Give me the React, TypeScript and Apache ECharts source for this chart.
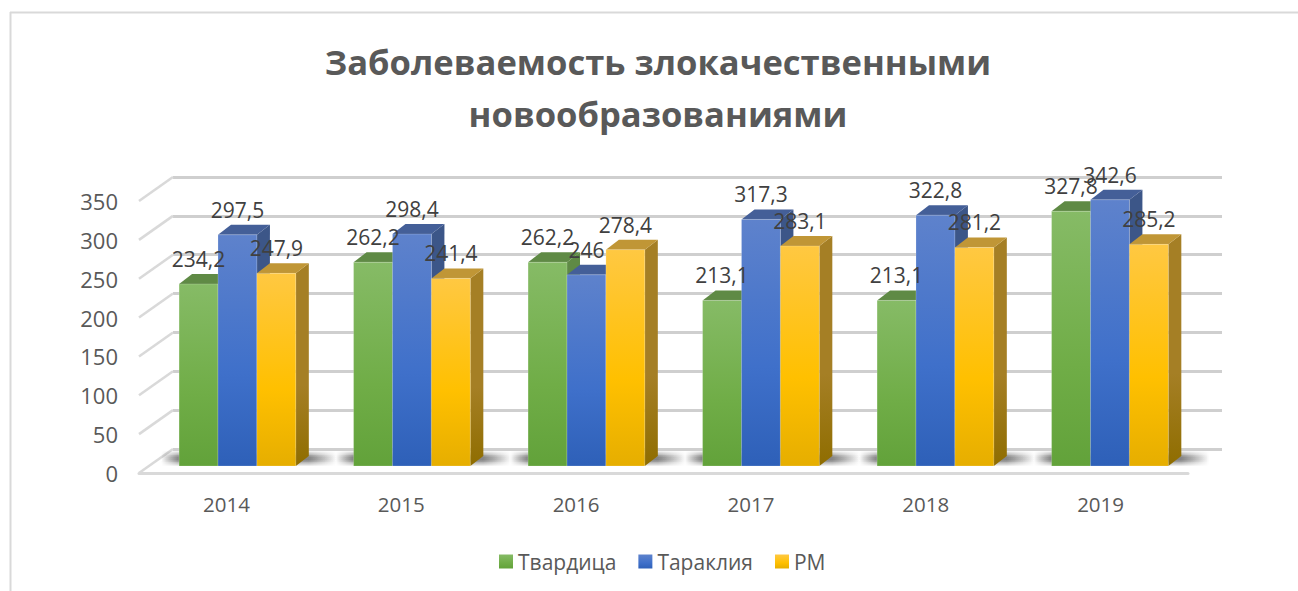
import React, { useEffect, useRef } from "react";
import * as echarts from "echarts";

const titleText = "Заболеваемость злокачественными\nновообразованиями";
const categories = ["2014", "2015", "2016", "2017", "2018", "2019"];
const tvardica = [234.2, 262.2, 262.2, 213.1, 213.1, 327.8];
const taraklia = [297.5, 298.4, 246, 317.3, 322.8, 342.6];
const rm = [247.9, 241.4, 278.4, 283.1, 281.2, 285.2];
const seriesNames = ["Твардица", "Тараклия", "РМ"];
const yTicks = [0, 50, 100, 150, 200, 250, 300, 350];

const grad = (a: string, b: string, c: string) =>
  new echarts.graphic.LinearGradient(0, 0, 0, 1, [
    { offset: 0, color: a },
    { offset: 0.6, color: b },
    { offset: 1, color: c },
  ]);

const looks = [
  { front: ["#86bb66", "#70ad47", "#62a23a"], top: "#5f8a45", side: ["#5f8a45", "#4f7a30"] },
  { front: ["#5e82cc", "#3f70ca", "#2e60b8"], top: "#445f98", side: ["#3c5688", "#2f4a80"] },
  { front: ["#ffc842", "#ffc000", "#e6ae00"], top: "#c09636", side: ["#a57f25", "#8f6d00"] },
];

const FONT = "'Open Sans', sans-serif";
const DX = 13;
const DY = 10;
const BAR_SHARE = 0.223;
const shadowLayers = [14, 10, 7, 4];

export default function App() {
  const ref = useRef<HTMLDivElement>(null);
  useEffect(() => {
    const chart = echarts.init(ref.current!, undefined, { renderer: "svg" });

    const barSeries = (name: string, values: number[], idx: number) => ({
      type: "custom",
      name,
      xAxisIndex: 1,
      yAxisIndex: 1,
      z: 5 + idx,
      clip: false,
      itemStyle: {
        color: grad(looks[idx].front[0], looks[idx].front[1], looks[idx].front[2]),
      },
      data: values.map((v, i) => [i, v]),
      renderItem: (_p: any, api: any) => {
        const w = api.size([1, 0])[0] * BAR_SHARE;
        const [cx, yTop] = api.coord([api.value(0), api.value(1)]);
        const [, yBase] = api.coord([api.value(0), 0]);
        const x0 = cx - 1.5 * w + idx * w;
        const x1 = x0 + w;
        const look = looks[idx];
        return {
          type: "group",
          children: [
            {
              type: "polygon",
              shape: { points: [[x1, yTop], [x1 + DX, yTop - DY], [x1 + DX, yBase - DY], [x1, yBase]] },
              style: { fill: grad(look.side[0], look.side[0], look.side[1]) },
            },
            {
              type: "polygon",
              shape: { points: [[x0, yTop], [x0 + DX, yTop - DY], [x1 + DX, yTop - DY], [x1, yTop]] },
              style: { fill: look.top },
            },
            {
              type: "rect",
              shape: { x: x0, y: yTop, width: w, height: yBase - yTop },
              style: {
                fill: grad(look.front[0], look.front[1], look.front[2]),
                stroke: "rgba(255,255,255,0.25)",
                lineWidth: 0.75,
              },
            },
          ],
        };
      },
    });

    const labelSeries = (values: number[], idx: number) => ({
      type: "custom",
      xAxisIndex: 1,
      yAxisIndex: 1,
      z: 20,
      clip: false,
      silent: true,
      data: values.map((v, i) => [i, v]),
      renderItem: (_p: any, api: any) => {
        const w = api.size([1, 0])[0] * BAR_SHARE;
        const [cx, yTop] = api.coord([api.value(0), api.value(1)]);
        return {
          type: "text",
          style: {
            x: cx - w + idx * w,
            y: yTop - 25,
            text: String(api.value(1)).replace(".", ","),
            align: "center",
            verticalAlign: "middle",
            font: `21px ${FONT}`,
            fill: "#404040",
          },
        };
      },
    });

    chart.setOption({
      animation: false,
      backgroundColor: "#ffffff",
      title: {
        text: titleText,
        left: 653,
        top: 30,
        textAlign: "center",
        textStyle: { fontFamily: FONT, fontWeight: "bold", fontSize: 34.6, lineHeight: 52, color: "#595959" },
      },
      legend: {
        left: 494,
        top: 546,
        itemWidth: 14,
        itemHeight: 14,
        itemGap: 22,
        icon: "rect",
        data: seriesNames,
        textStyle: { fontFamily: FONT, fontSize: 21, color: "#595959" },
      },
      graphic: [
        { type: "line", silent: true, shape: { x1: 10, y1: 12.5, x2: 1298, y2: 12.5 }, style: { stroke: "#d9d9d9", lineWidth: 2 } },
        { type: "line", silent: true, shape: { x1: 10.5, y1: 12, x2: 10.5, y2: 591 }, style: { stroke: "#d9d9d9", lineWidth: 2 } },
      ],
      grid: [
        { left: 139, top: 201, width: 1049, height: 272 },
        { left: 150.2, top: 194, width: 1047, height: 272 },
        { left: 173, top: 177, width: 1049, height: 272 },
      ],
      xAxis: [
        {
          gridIndex: 0,
          type: "category",
          data: categories,
          axisTick: { show: false },
          axisLine: { show: true, lineStyle: { color: "#d9d9d9", width: 3 } },
          axisLabel: { margin: 20, fontFamily: FONT, fontSize: 20.5, color: "#595959" },
        },
        { gridIndex: 1, type: "category", data: categories, show: false },
        { gridIndex: 2, type: "category", data: categories, show: false },
      ],
      yAxis: [
        {
          gridIndex: 0,
          type: "value",
          min: 0,
          max: 350,
          interval: 50,
          axisLine: { show: false },
          axisTick: { show: false },
          splitLine: { show: false },
          axisLabel: { margin: 21, fontFamily: FONT, fontSize: 22, color: "#595959" },
        },
        { gridIndex: 1, type: "value", min: 0, max: 350, interval: 50, show: false },
        {
          gridIndex: 2,
          type: "value",
          min: 0,
          max: 350,
          interval: 50,
          axisLine: { show: false },
          axisTick: { show: false },
          axisLabel: { show: false },
          splitLine: { show: true, lineStyle: { color: "#cfcfcf", width: 3 } },
        },
      ],
      series: [
        {
          type: "custom",
          xAxisIndex: 0,
          yAxisIndex: 0,
          z: 2,
          clip: false,
          silent: true,
          data: yTicks.map((v) => [0, v]),
          renderItem: (p: any, api: any) => {
            const [, y] = api.coord([0, api.value(1)]);
            const x = p.coordSys.x;
            return {
              type: "line",
              shape: { x1: x, y1: y, x2: x + 34, y2: y - 24 },
              style: { stroke: "#d9d9d9", lineWidth: 2.5 },
            };
          },
        },
        {
          type: "custom",
          xAxisIndex: 1,
          yAxisIndex: 1,
          z: 3,
          clip: false,
          silent: true,
          data: categories.map((_c, i) => [i, 0]),
          renderItem: (_p: any, api: any) => {
            const w = api.size([1, 0])[0] * BAR_SHARE;
            const [cx, y] = api.coord([api.value(0), 0]);
            const left = cx - 1.5 * w - 18;
            const width = 3 * w + DX + 18 + 28;
            return {
              type: "group",
              children: shadowLayers.map((h) => ({
                type: "rect",
                shape: { x: left, y: y - 7.5 - h / 2, width, height: h },
                style: {
                  fill: new echarts.graphic.LinearGradient(0, 0, 1, 0, [
                    { offset: 0, color: "rgba(0,0,0,0)" },
                    { offset: 0.1, color: "rgba(0,0,0,0.15)" },
                    { offset: 0.84, color: "rgba(0,0,0,0.15)" },
                    { offset: 1, color: "rgba(0,0,0,0)" },
                  ]),
                },
              })),
            };
          },
        },
        barSeries(seriesNames[0], tvardica, 0),
        barSeries(seriesNames[1], taraklia, 1),
        barSeries(seriesNames[2], rm, 2),
        labelSeries(tvardica, 0),
        labelSeries(taraklia, 1),
        labelSeries(rm, 2),
      ],
    });
    return () => chart.dispose();
  }, []);
  return <div ref={ref} style={{ position: "fixed", left: 0, top: 0, width: 1298, height: 591 }} />;
}
